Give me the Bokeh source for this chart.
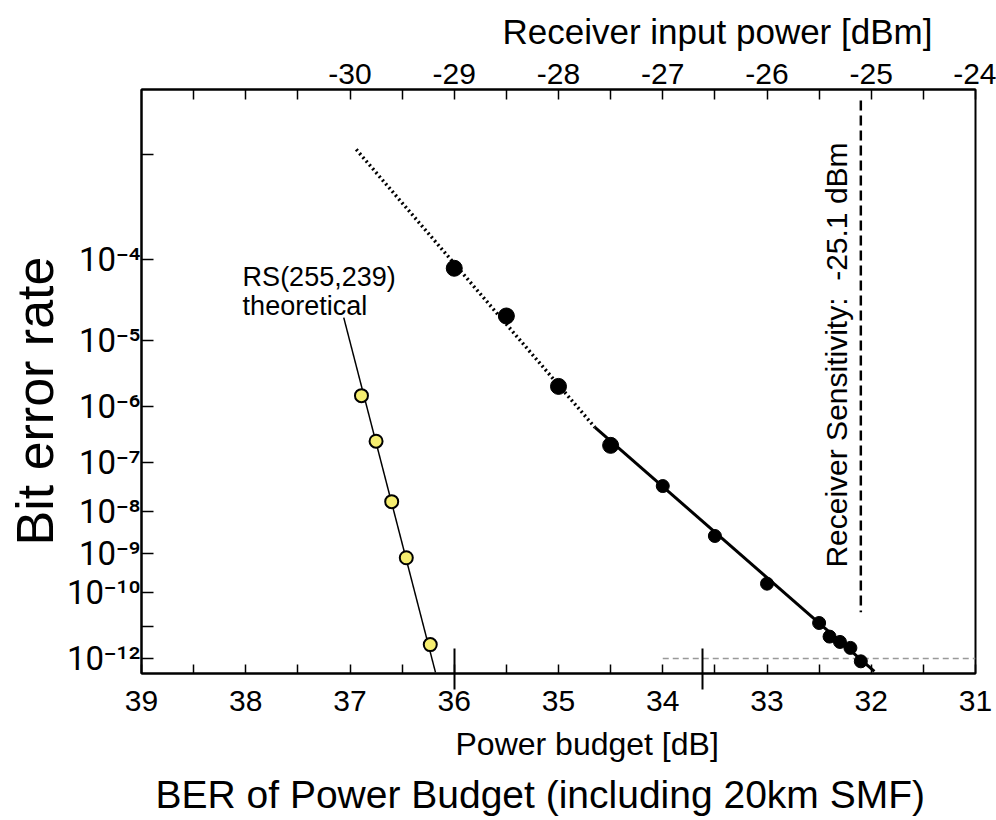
import numpy as np
from bokeh.plotting import figure
from bokeh.models import Range1d, LinearAxis, FixedTicker, Title
from bokeh.core.properties import value
from bokeh.embed import file_html
from bokeh.resources import INLINE

# ---------------- data ----------------
# measured BER vs power budget [dB]
meas_budget = [36.0, 35.5, 35.0, 34.5, 34.0, 33.5, 33.0, 32.5, 32.4, 32.3, 32.2, 32.1]
meas_ber = [7.9e-5, 2.1e-5, 2.1e-6, 2.1e-7, 3.4e-8, 2.7e-9, 1.7e-10, 1.3e-11,
            5.0e-12, 3.4e-12, 2.2e-12, 8.0e-13]

# fitted lines for the measurement (dotted extrapolation + solid fit)
fit_dotted_budget = [36.94, 34.65]
fit_dotted_ber = [1.1e-3, 4.4e-7]
fit_solid_budget = [34.65, 31.97]
fit_solid_ber = [4.4e-7, 3.7e-13]

# RS(255,239) theoretical
rs_budget = [36.89, 36.75, 36.60, 36.46, 36.23]
rs_ber = [1.5e-6, 2.5e-7, 1.6e-8, 8.0e-10, 2.8e-12]
rs_line_budget = [37.06, 36.18]
rs_line_ber = [2.0e-5, 3.4e-13]

# receiver sensitivity / threshold
sensitivity_dbm = -25.1
sens_line_ber = [2.6e-3, 2.7e-11]
threshold_ber = 1e-12
threshold_budget = [34.0, 31.0]
budget_markers = [36.0, 33.62]

# axes
budget_ticks = [39, 38, 37, 36, 35, 34, 33, 32, 31]
budget_half = [38.5, 37.5, 36.5, 35.5, 34.5, 33.5, 32.5, 31.5]
rx_ticks = [-30, -29, -28, -27, -26, -25, -24]
rx_minor = [-31.5, -31, -30.5, -29.5, -28.5, -27.5, -26.5, -25.5, -24.5]
ber_tick_exp = [3, 4, 5, 6, 7, 8, 9, 10, 11, 12]
ber_tick_labels = ["", "10⁻⁴", "10⁻⁵", "10⁻⁶", "10⁻⁷", "10⁻⁸", "10⁻⁹", "10⁻¹⁰", "", "10⁻¹²"]
ber_top, ber_bottom = 3.1e-3, 3.1e-13
tx_power = 7.0  # budget = tx_power - rx power


def tr(ber):
    """BER axis: log10(-log10(BER))"""
    return np.log10(-np.log10(np.asarray(ber, dtype=float)))


FONT = "Liberation Sans"

p = figure(width=996, height=816, title=None,
           x_range=Range1d(budget_ticks[0], budget_ticks[-1]),
           y_range=Range1d(float(tr(ber_bottom)), float(tr(ber_top))),
           output_backend="svg", toolbar_location=None,
           min_border_left=141, min_border_right=21,
           min_border_top=89, min_border_bottom=143)
p.extra_x_ranges = {"rx": Range1d(tx_power - budget_ticks[0], tx_power - budget_ticks[-1])}

p.grid.visible = False
p.outline_line_color = "black"
p.outline_line_width = 2
p.background_fill_color = "white"
p.border_fill_color = "white"

# bottom axis: integer + half ticks as major, budget markers as (long) minor ticks
xa = p.xaxis[0]
xa.ticker = FixedTicker(ticks=budget_ticks + budget_half, minor_ticks=budget_markers)
xa.major_label_overrides = {v: "" for v in budget_half}
xa.major_tick_in = 9
xa.major_tick_out = 0
xa.minor_tick_in = 25
xa.minor_tick_out = 16
xa.minor_tick_line_width = 2
xa.major_label_standoff = 1

# left axis
ya = p.yaxis[0]
ytick_vals = [float(v) for v in tr([10.0 ** (-e) for e in ber_tick_exp])]
ya.ticker = FixedTicker(ticks=ytick_vals, minor_ticks=[])
ya.major_label_overrides = {v: lab for v, lab in zip(ytick_vals, ber_tick_labels)}
ya.major_tick_in = 12
ya.major_tick_out = 0
ya.major_label_standoff = 1

# top axis
ta = LinearAxis(x_range_name="rx", ticker=FixedTicker(ticks=rx_ticks, minor_ticks=rx_minor))
ta.major_label_overrides = {v: str(v) for v in rx_ticks}
ta.major_tick_in = 10
ta.major_tick_out = 0
ta.minor_tick_in = 10
ta.minor_tick_out = 0
ta.major_label_standoff = 6
p.add_layout(ta, "above")

for ax in (xa, ya, ta):
    ax.axis_line_color = "black"
    ax.axis_line_width = 2
    ax.major_tick_line_color = "black"
    ax.major_tick_line_width = 1.5
    ax.minor_tick_line_color = "black"
    ax.major_label_text_font = FONT
    ax.major_label_text_font_size = "30px"
    ax.major_label_text_color = "black"
ta.minor_tick_line_width = 1.5
ya.major_label_text_font = "Roboto"
ya.major_label_text_font_size = "33px"

p.add_layout(Title(text="Receiver input power [dBm]", align="left", offset=361,
                   text_font=FONT, text_font_size="35px", text_font_style="normal",
                   text_color="black", standoff=19), "above")
p.add_layout(Title(text="Power budget [dB]", align="left", offset=314,
                   text_font=FONT, text_font_size="32px", text_font_style="normal",
                   text_color="black", standoff=21), "below")
p.add_layout(Title(text="BER of Power Budget (including 20km SMF)", align="left", offset=14,
                   text_font=FONT, text_font_size="39px", text_font_style="normal",
                   text_color="black", standoff=-3), "below")
p.add_layout(Title(text="Bit error rate", align="left", offset=128,
                   text_font=FONT, text_font_size="52px", text_font_style="normal",
                   text_color="black", standoff=0), "left")

# threshold line (1e-12)
p.line(threshold_budget, tr([threshold_ber] * 2), line_color="#999999", line_width=1.5,
       line_dash="6 4")

# sensitivity line
p.line([sensitivity_dbm] * 2, tr(sens_line_ber), x_range_name="rx",
       line_color="black", line_width=2.5, line_dash="10 5")

# RS theoretical
p.line(rs_line_budget, tr(rs_line_ber), line_color="black", line_width=1.5)
p.scatter(rs_budget, tr(rs_ber), size=13, fill_color="#f6ee70", line_color="black",
          line_width=2)

# measured
p.line(fit_dotted_budget, tr(fit_dotted_ber), line_color="black", line_width=3.5,
       line_dash="2 3")
p.line(fit_solid_budget, tr(fit_solid_ber), line_color="black", line_width=3)
p.scatter(meas_budget[:4], tr(meas_ber[:4]), size=16, fill_color="black", line_color="black")
p.scatter(meas_budget[4:], tr(meas_ber[4:]), size=13, fill_color="black", line_color="black")

# texts
p.text(x=[38.03], y=tr([6.3e-5]), text=["RS(255,239)"], text_font=value(FONT),
       text_font_size="27px", text_baseline="alphabetic", text_align="left", text_color="black")
p.text(x=[38.03], y=tr([2.8e-5]), text=["theoretical"], text_font=value(FONT),
       text_font_size="27px", text_baseline="alphabetic", text_align="left", text_color="black")
p.text(x=[32.33], y=tr([4.5e-10]), text=["Receiver Sensitivity:\u00a0 -25.1 dBm"],
       text_font=value(FONT), text_font_size="30px", angle=np.pi / 2,
       text_baseline="middle", text_align="left", text_color="black")

open("out.html", "w").write(file_html(p, INLINE))
